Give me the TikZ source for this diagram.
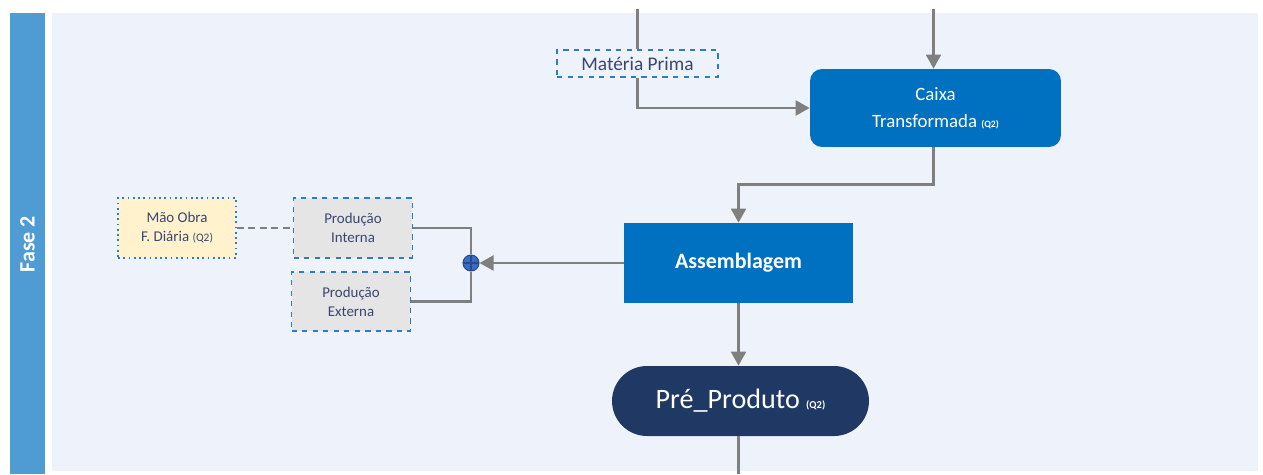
\documentclass[tikz,border=0pt]{standalone}
\usepackage{fontspec}
\setmainfont{Carlito}
\usetikzlibrary{arrows.meta}

\definecolor{faixa}{HTML}{4F9BD4}
\definecolor{fundo}{HTML}{EEF2FA}
\definecolor{azul}{HTML}{0070C0}
\definecolor{marinho}{HTML}{1F3864}
\definecolor{seta}{HTML}{7F7F7F}
\definecolor{texto}{HTML}{3B4670}
\definecolor{tracado}{HTML}{2E7CC8}
\definecolor{creme}{HTML}{FFF2CC}
\definecolor{juncaoazul}{HTML}{3A6CC4}
\definecolor{juncaoborda}{HTML}{2A4A8A}

\tikzset{
  flow/.style={draw=seta, line width=1.4pt, -{Triangle[length=8pt,width=8.5pt]}},
  linha/.style={draw=seta, line width=1.4pt},
  caixaazul/.style={fill=azul, text=white, align=center},
  entrada/.style={draw=tracado, dashed, line width=0.9pt, fill=black!10, text=texto,
    font=\fontsize{8.5}{10.8}\selectfont, align=center,
    minimum width=2.38cm, minimum height=1.19cm, inner sep=0pt}
}

\begin{document}
\begin{tikzpicture}[x=0.02cm, y=-0.02cm]
    \useasboundingbox (0,0) rectangle (1263,474);

    % faixa da fase e area de fundo
    \fill[faixa] (10,13) rectangle (45,474);
    \fill[fundo] (52,13) rectangle (1258,471);
    \node[rotate=90, text=white, font=\fontsize{12.5}{14}\selectfont\bfseries] (fase) at (27.5,244) {Fase 2};

    % nos
    \node[draw=tracado, dashed, line width=0.9pt, fill=fundo, text=texto, font=\fontsize{11}{13}\selectfont,
      minimum width=3.22cm, minimum height=0.54cm, inner sep=0pt] (materia) at (637.5,63.5) {Matéria Prima};
    \node[caixaazul, rounded corners=0.24cm, font=\fontsize{10.7}{15.3}\selectfont,
      minimum width=5.02cm, minimum height=1.56cm] (caixa) at (935.5,108) {Caixa\\Transformada {\fontsize{5.5}{6}\selectfont\bfseries(Q2)}};
    \node[caixaazul, font=\fontsize{12.5}{14}\selectfont\bfseries,
      minimum width=4.58cm, minimum height=1.6cm] (assembl) at (738.5,263) {Assemblagem};
    \node[fill=marinho, text=white, rounded corners=0.7cm, font=\fontsize{16}{18}\selectfont,
      minimum width=5.14cm, minimum height=1.4cm] (preprod) at (740.5,401) {Pré\_Produto {\fontsize{6}{7}\selectfont\bfseries(Q2)}};

    \node[entrada] (interna) at (353,228) {Produção\\Interna};
    \node[entrada] (externa) at (351,301.5) {Produção\\Externa};
    \node[draw=tracado, dotted, line width=1pt, fill=creme, text=texto,
      font=\fontsize{8.5}{10.8}\selectfont, align=center,
      minimum width=2.36cm, minimum height=1.2cm, inner sep=0pt] (maoobra) at (177,228) {Mão Obra\\F. Diária {\fontsize{6.5}{7}\selectfont(Q2)}};

    \node[circle, fill=juncaoazul, draw=juncaoborda, line width=0.6pt, minimum size=0.32cm, inner sep=0pt,
      path picture={\draw[juncaoborda, line width=0.8pt] (path picture bounding box.north) -- (path picture bounding box.south)
        (path picture bounding box.west) -- (path picture bounding box.east);}] (juncao) at (471,263) {};

    \coordinate (topoA) at (637.5,9);
    \coordinate (topoB) at (933.5,9);
    \coordinate (fim) at (738.5,474);

    % ligacoes
    \draw[linha] (topoA) -- (materia.north);
    \draw[flow] (materia.south) |- (caixa.west);
    \draw[flow] (topoB) -- (caixa.north -| topoB);
    \draw[flow] (caixa.south -| topoB) -- ++(0,37) -| (assembl.north);
    \draw[flow] (assembl.south) -- (preprod.north -| assembl.south);
    \draw[linha] (preprod.south -| fim) -- (fim);
    \draw[flow] (assembl.west) -- (juncao);
    \draw[linha] (interna.east) -| (juncao.north);
    \draw[linha] (externa.east) -| (juncao.south);
    \draw[draw=seta, line width=1.6pt, dash pattern=on 4pt off 2.5pt] (maoobra) -- (interna);
\end{tikzpicture}
\end{document}
